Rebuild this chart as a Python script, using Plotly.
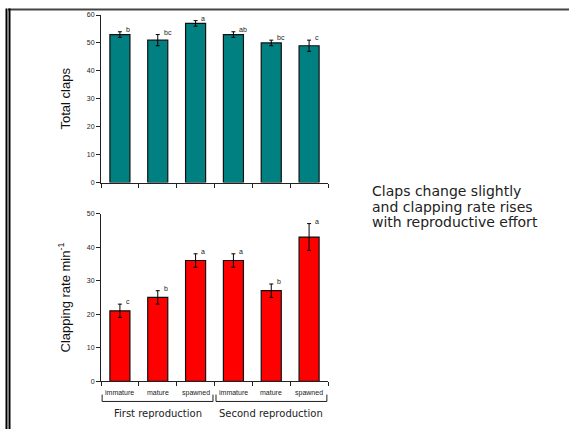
import plotly.graph_objects as go

stages = ["immature", "mature", "spawned", "immature", "mature", "spawned"]
groups = ["First reproduction", "Second reproduction"]
claps = [53, 51, 57, 53, 50, 49]
claps_err = [1, 2, 1, 1, 1, 2]
claps_letters = ["b", "bc", "a", "ab", "bc", "c"]
rate = [21, 25, 36, 36, 27, 43]
rate_err = [2, 2, 2, 2, 2, 4]
rate_letters = ["c", "b", "a", "a", "b", "a"]
note_lines = ["Claps change slightly", "and clapping rate rises", "with reproductive effort"]

W, H = 569, 432
def px(x): return x / W
def py(y): return (H - y) / H

xs = list(range(len(stages)))
fig = go.Figure()
fig.add_trace(go.Bar(x=xs, y=claps, width=0.53, marker=dict(color="#008080", line=dict(color="#111111", width=1.2)),
                     error_y=dict(type="data", array=claps_err, color="black", thickness=1, width=2),
                     xaxis="x", yaxis="y", showlegend=False, hoverinfo="skip"))
fig.add_trace(go.Bar(x=xs, y=rate, width=0.53, marker=dict(color="#ff0000", line=dict(color="#111111", width=1.2)),
                     error_y=dict(type="data", array=rate_err, color="black", thickness=1, width=2),
                     xaxis="x2", yaxis="y2", showlegend=False, hoverinfo="skip"))

ax_common = dict(range=[-0.5, 5.5], tickmode="array", tickvals=[i - 0.5 for i in range(7)], showticklabels=False,
                 ticks="outside", ticklen=4, tickcolor="#222", showline=True, linecolor="#222", linewidth=1,
                 showgrid=False, zeroline=False, domain=[px(101), px(328)], fixedrange=True)
yax_common = dict(ticks="outside", ticklen=4, tickcolor="#222", showline=True, linecolor="#222", linewidth=1,
                  showgrid=False, zeroline=False, tickfont=dict(family="Liberation Sans", size=7, color="#222"),
                  title_font=dict(family="Liberation Sans", size=13, color="#111"), title_standoff=13,
                  fixedrange=True)

fig.update_layout(
    width=W, height=H, margin=dict(l=0, r=0, t=0, b=0),
    paper_bgcolor="white", plot_bgcolor="white", bargap=0,
    xaxis=dict(anchor="y", **ax_common),
    yaxis=dict(domain=[py(181.5), py(11.2)], range=[0, 60], dtick=10, title_text="Total claps", **yax_common),
    xaxis2=dict(anchor="y2", **ax_common),
    yaxis2=dict(domain=[py(383.5), py(213)], range=[0, 50], dtick=10,
                title_text="Clapping rate min<sup>-1</sup>", **yax_common),
)

ann = []
for i in xs:
    ann.append(dict(x=i + 0.1, y=claps[i] + claps_err[i], xref="x", yref="y", text=claps_letters[i],
                    showarrow=False, xanchor="left", yanchor="bottom", yshift=-3,
                    font=dict(family="Liberation Sans", size=7, color="#222")))
    ann.append(dict(x=i + 0.1, y=rate[i] + rate_err[i], xref="x2", yref="y2", text=rate_letters[i],
                    showarrow=False, xanchor="left", yanchor="bottom", yshift=-3,
                    font=dict(family="Liberation Sans", size=7, color="#222")))
    ann.append(dict(x=i, y=py(395), xref="x2", yref="paper", text=stages[i], showarrow=False,
                    xanchor="center", yanchor="middle", font=dict(family="Liberation Sans", size=7, color="#222")))
for g, gx in zip(groups, [1, 4]):
    ann.append(dict(x=gx, y=py(416), xref="x2", yref="paper", text=g, showarrow=False,
                    xanchor="center", yanchor="middle", font=dict(family="DejaVu Sans", size=10, color="#222")))
for k, line in enumerate(note_lines):
    ann.append(dict(x=px(370), y=py(190 + 16 * k), xref="paper", yref="paper", text=line, showarrow=False,
                    xanchor="left", yanchor="middle", font=dict(family="DejaVu Sans", size=14, color="#222")))

shapes = []
for a, b in [(-0.47, 2.46), (2.54, 5.47)]:
    shapes.append(dict(type="path", xref="x2", yref="paper",
                       path=f"M {a},{py(397)} L {a},{py(404)} L {b},{py(404)} L {b},{py(397)}",
                       line=dict(color="#222", width=1)))
# frame
shapes.append(dict(type="line", xref="paper", yref="paper", x0=px(8), x1=1, y0=py(5.5), y1=py(5.5),
                   line=dict(color="#444", width=2)))
shapes.append(dict(type="line", xref="paper", yref="paper", x0=px(6.5), x1=px(6.5), y0=0, y1=py(4.5),
                   line=dict(color="black", width=2)))
shapes.append(dict(type="line", xref="paper", yref="paper", x0=px(9.5), x1=px(9.5), y0=0, y1=py(4.5),
                   line=dict(color="black", width=2)))

fig.update_layout(annotations=ann, shapes=shapes)
fig.write_html("out.html", config={"displayModeBar": False, "staticPlot": True},
               post_script="document.body.style.margin='0';document.body.style.padding='0';")
